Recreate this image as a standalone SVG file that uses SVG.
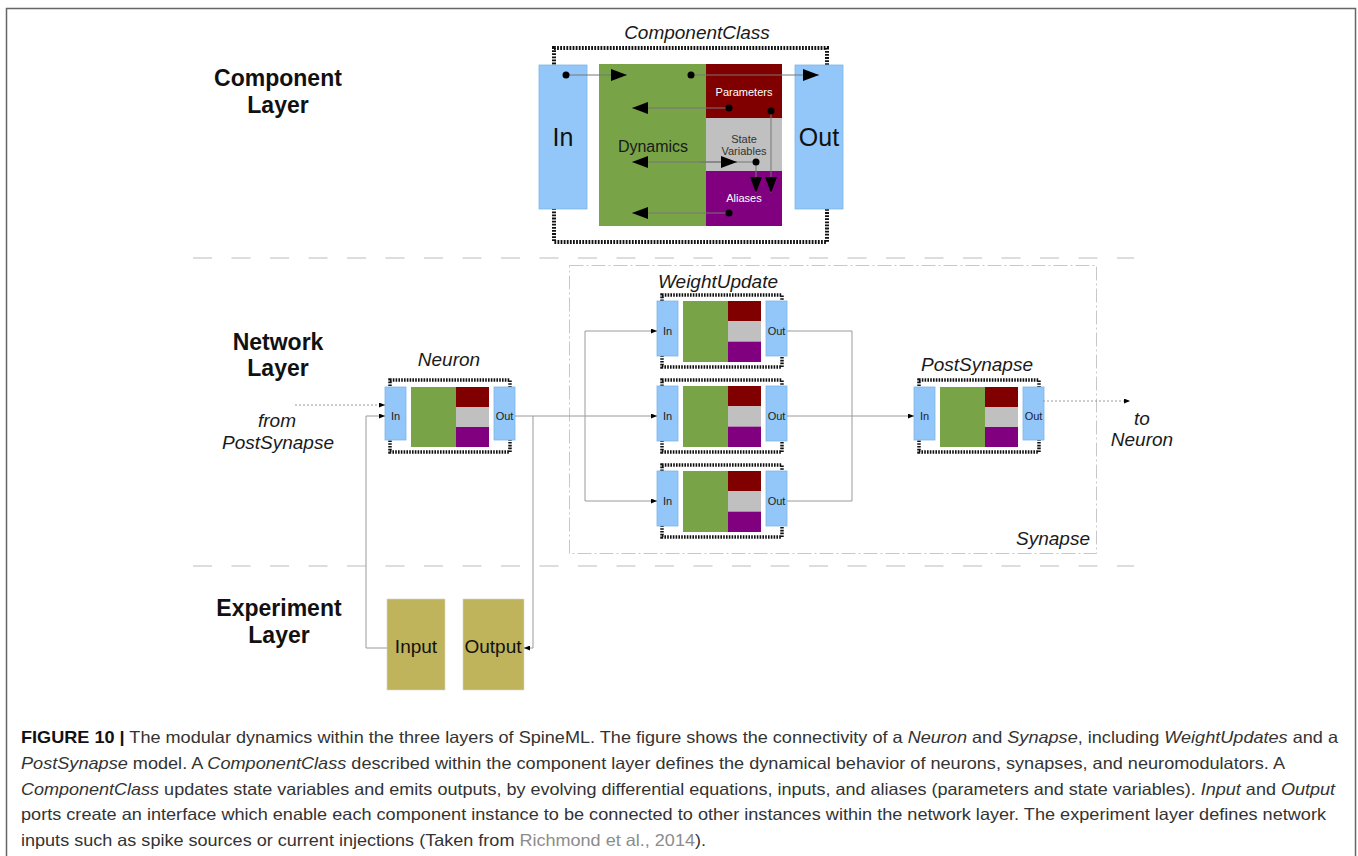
<svg xmlns="http://www.w3.org/2000/svg" width="1358" height="856" viewBox="0 0 1358 856">
<defs>
<style>
.port{fill:#93c7f9;stroke:#7eb4e6;stroke-width:0.8}
.dyn{fill:#78a346}
.par{fill:#800000}
.sv{fill:#c0c0c0}
.al{fill:#800080}
.dots{fill:none;stroke:#111;stroke-width:3.5;stroke-dasharray:1.6 1.2}
.dotsbig{fill:none;stroke:#111;stroke-width:4;stroke-dasharray:1.8 1.3}
.lbl{font-family:"Liberation Sans",Arial,sans-serif;font-style:italic;font-size:19px;fill:#1a1a1a;text-anchor:middle}
.layer{font-family:"Liberation Sans",Arial,sans-serif;font-weight:bold;font-size:23px;fill:#111;text-anchor:middle}
.pt{font-family:"Liberation Sans",Arial,sans-serif;font-size:11px;fill:#222;text-anchor:middle}
.cap{font-family:"Liberation Sans",Arial,sans-serif;font-size:16.5px;fill:#333}
.conn{fill:none;stroke:#9a9a9a;stroke-width:1}
.inner{fill:none;stroke:#777;stroke-width:1}
.sep{fill:none;stroke:#d2d2d2;stroke-width:1.5;stroke-dasharray:19 19.5}
.dot{fill:#000}
.exp{fill:#bfb35b;stroke:#d8d8c8;stroke-width:0.6}
</style>
<marker id="big" markerUnits="userSpaceOnUse" markerWidth="16" markerHeight="12" refX="16" refY="6" orient="auto">
<path d="M0,0 L16,6 L0,12 z" fill="#000"/>
</marker>
<marker id="sm" markerUnits="userSpaceOnUse" markerWidth="6" markerHeight="5" refX="6" refY="2.5" orient="auto">
<path d="M0,0 L6,2.5 L0,5 z" fill="#000"/>
</marker>
</defs>
<rect x="0" y="0" width="1358" height="856" fill="#fff"/>
<rect id="frame" x="6.5" y="8.5" width="1349" height="870" fill="none" stroke="#666" stroke-width="1.5"/>

<g id="layer-labels">
<text class="layer" x="278" y="86">Component</text>
<text class="layer" x="278" y="113">Layer</text>
<text class="layer" x="278" y="350">Network</text>
<text class="layer" x="278" y="376">Layer</text>
<text class="layer" x="279" y="616">Experiment</text>
<text class="layer" x="279" y="643">Layer</text>
</g>

<g id="separators">
<line class="sep" x1="193" y1="258" x2="1134" y2="258"/>
<line class="sep" x1="193" y1="566" x2="1134" y2="566"/>
</g>

<g id="synapse">
<rect x="569.5" y="265.5" width="527" height="288" fill="none" stroke="#c8c8c8" stroke-width="1" stroke-dasharray="14 3 2 3"/>
<text class="lbl" x="1090" y="545" text-anchor="end" style="text-anchor:end">Synapse</text>
</g>

<g id="component-class">
<text class="lbl" x="697" y="39">ComponentClass</text>
<rect class="dotsbig" x="554" y="48" width="273" height="194"/>
<rect class="port" x="539" y="65" width="48" height="144"/>
<rect class="dyn" x="599" y="64" width="107" height="162"/>
<rect class="par" x="706" y="64" width="76" height="54"/>
<rect class="sv" x="706" y="118" width="76" height="53"/>
<rect class="al" x="706" y="171" width="76" height="55"/>
<rect class="port" x="795" y="65" width="48" height="144"/>
<text x="563" y="146" font-family="Liberation Sans, Arial, sans-serif" font-size="25" fill="#111" text-anchor="middle">In</text>
<text x="819" y="146" font-family="Liberation Sans, Arial, sans-serif" font-size="25" fill="#111" text-anchor="middle">Out</text>
<text x="653" y="152" font-family="Liberation Sans, Arial, sans-serif" font-size="16" fill="#1a1a1a" text-anchor="middle">Dynamics</text>
<text x="744" y="96" font-family="Liberation Sans, Arial, sans-serif" font-size="11" fill="#fff" text-anchor="middle">Parameters</text>
<text x="744" y="143" font-family="Liberation Sans, Arial, sans-serif" font-size="11" fill="#333" text-anchor="middle">State</text>
<text x="744" y="155" font-family="Liberation Sans, Arial, sans-serif" font-size="11" fill="#333" text-anchor="middle">Variables</text>
<text x="744" y="202" font-family="Liberation Sans, Arial, sans-serif" font-size="11" fill="#fff" text-anchor="middle">Aliases</text>
</g>

<g id="neuron">
<text class="lbl" x="449" y="366">Neuron</text>
<g transform="translate(385,386)">
<rect class="dots" x="5" y="-6" width="120" height="72"/>
<rect class="port" x="0" y="1" width="21" height="53"/>
<rect class="dyn" x="26" y="1" width="45" height="60"/>
<rect class="par" x="71" y="1" width="33" height="20"/>
<rect class="sv" x="71" y="21" width="33" height="20"/>
<rect class="al" x="71" y="41" width="33" height="20"/>
<rect class="port" x="109" y="1" width="21" height="53"/>
<text class="pt" x="10.5" y="34">In</text>
<text class="pt" x="119.5" y="34">Out</text>
</g>
</g>

<g id="weight-update-1">
<text class="lbl" x="718" y="288">WeightUpdate</text>
<g transform="translate(657,301)">
<rect class="dots" x="5" y="-6" width="120" height="72"/>
<rect class="port" x="0" y="0" width="21" height="55"/>
<rect class="dyn" x="26" y="0" width="45" height="61"/>
<rect class="par" x="71" y="0" width="33" height="20.3"/>
<rect class="sv" x="71" y="20.3" width="33" height="20.3"/>
<rect class="al" x="71" y="40.6" width="33" height="20.4"/>
<rect class="port" x="109" y="0" width="21" height="55"/>
<text class="pt" x="10.5" y="34">In</text>
<text class="pt" x="119.5" y="34">Out</text>
</g>
</g>

<g id="weight-update-2">
<g transform="translate(657,386)">
<rect class="dots" x="5" y="-6" width="120" height="72"/>
<rect class="port" x="0" y="0" width="21" height="55"/>
<rect class="dyn" x="26" y="0" width="45" height="61"/>
<rect class="par" x="71" y="0" width="33" height="20.3"/>
<rect class="sv" x="71" y="20.3" width="33" height="20.3"/>
<rect class="al" x="71" y="40.6" width="33" height="20.4"/>
<rect class="port" x="109" y="0" width="21" height="55"/>
<text class="pt" x="10.5" y="34">In</text>
<text class="pt" x="119.5" y="34">Out</text>
</g>
</g>

<g id="weight-update-3">
<g transform="translate(657,471)">
<rect class="dots" x="5" y="-6" width="120" height="72"/>
<rect class="port" x="0" y="0" width="21" height="55"/>
<rect class="dyn" x="26" y="0" width="45" height="61"/>
<rect class="par" x="71" y="0" width="33" height="20.3"/>
<rect class="sv" x="71" y="20.3" width="33" height="20.3"/>
<rect class="al" x="71" y="40.6" width="33" height="20.4"/>
<rect class="port" x="109" y="0" width="21" height="55"/>
<text class="pt" x="10.5" y="34">In</text>
<text class="pt" x="119.5" y="34">Out</text>
</g>
</g>

<g id="post-synapse">
<text class="lbl" x="977" y="371">PostSynapse</text>
<g transform="translate(914,386)">
<rect class="dots" x="5" y="-6" width="120" height="72"/>
<rect class="port" x="0" y="1" width="21" height="53"/>
<rect class="dyn" x="26" y="1" width="45" height="60"/>
<rect class="par" x="71" y="1" width="33" height="20"/>
<rect class="sv" x="71" y="21" width="33" height="20"/>
<rect class="al" x="71" y="41" width="33" height="20"/>
<rect class="port" x="109" y="1" width="21" height="53"/>
<text class="pt" x="10.5" y="34">In</text>
<text class="pt" x="119.5" y="34">Out</text>
</g>
</g>

<g id="from-label">
<text class="lbl" x="277" y="427">from</text>
<text class="lbl" x="278" y="449">PostSynapse</text>
</g>
<g id="to-label">
<text class="lbl" x="1142" y="425">to</text>
<text class="lbl" x="1142" y="446">Neuron</text>
</g>

<g id="input">
<rect class="exp" x="387" y="599" width="58" height="91"/>
<text x="416" y="653" font-family="Liberation Sans, Arial, sans-serif" font-size="19" fill="#111" text-anchor="middle">Input</text>
</g>
<g id="output">
<rect class="exp" x="463" y="599" width="61" height="91"/>
<text x="493" y="653" font-family="Liberation Sans, Arial, sans-serif" font-size="19" fill="#111" text-anchor="middle">Output</text>
</g>

<g id="connectors">
<path class="inner" d="M566,75 H627" marker-end="url(#big)"/>
<path class="inner" d="M691,75 H819" marker-end="url(#big)"/>
<path class="inner" d="M729,108 H632" marker-end="url(#big)"/>
<path class="inner" d="M771,111 V193" marker-end="url(#big)"/>
<path class="inner" d="M756,162 H632" marker-end="url(#big)"/>
<path class="inner" d="M700,162 H737" marker-end="url(#big)"/>
<path class="inner" d="M756,162 V193" marker-end="url(#big)"/>
<path class="inner" d="M729,213 H632" marker-end="url(#big)"/>
<circle class="dot" cx="566" cy="75" r="3.5"/>
<circle class="dot" cx="691" cy="75" r="3.5"/>
<circle class="dot" cx="729" cy="108" r="3.5"/>
<circle class="dot" cx="771" cy="111" r="3.5"/>
<circle class="dot" cx="756" cy="162" r="3.5"/>
<circle class="dot" cx="729" cy="213" r="3.5"/>

<path class="conn" d="M295,405 H385" stroke-dasharray="2 2" marker-end="url(#sm)"/>
<path class="conn" d="M387,648 H366 V416 H385" marker-end="url(#sm)"/>
<path class="conn" d="M515,416 H533 V648 H524" marker-end="url(#sm)"/>
<path class="conn" d="M533,416 H585 V331 H657" marker-end="url(#sm)"/>
<path class="conn" d="M585,416 H657" marker-end="url(#sm)"/>
<path class="conn" d="M585,416 V501 H657" marker-end="url(#sm)"/>
<path class="conn" d="M787,331 H852 V501 H787"/>
<path class="conn" d="M787,416 H914" marker-end="url(#sm)"/>
<path class="conn" d="M1043,401 H1130" stroke-dasharray="2 2" marker-end="url(#sm)"/>
</g>

<g id="caption">
<text class="cap" x="21" y="743" textLength="1317" lengthAdjust="spacingAndGlyphs"><tspan font-weight="bold" fill="#111">FIGURE 10 |</tspan> The modular dynamics within the three layers of SpineML. The figure shows the connectivity of a <tspan font-style="italic">Neuron</tspan> and <tspan font-style="italic">Synapse</tspan>, including <tspan font-style="italic">WeightUpdates</tspan> and a</text>
<text class="cap" x="21" y="769" textLength="1264" lengthAdjust="spacingAndGlyphs"><tspan font-style="italic">PostSynapse</tspan> model. A <tspan font-style="italic">ComponentClass</tspan> described within the component layer defines the dynamical behavior of neurons, synapses, and neuromodulators. A</text>
<text class="cap" x="21" y="795" textLength="1314" lengthAdjust="spacingAndGlyphs"><tspan font-style="italic">ComponentClass</tspan> updates state variables and emits outputs, by evolving differential equations, inputs, and aliases (parameters and state variables). <tspan font-style="italic">Input</tspan> and <tspan font-style="italic">Output</tspan></text>
<text class="cap" x="21" y="820" textLength="1305" lengthAdjust="spacingAndGlyphs">ports create an interface which enable each component instance to be connected to other instances within the network layer. The experiment layer defines network</text>
<text class="cap" x="21" y="846" textLength="685" lengthAdjust="spacingAndGlyphs">inputs such as spike sources or current injections (Taken from <tspan fill="#8c8c8c">Richmond et al., 2014</tspan>).</text>
</g>
</svg>
